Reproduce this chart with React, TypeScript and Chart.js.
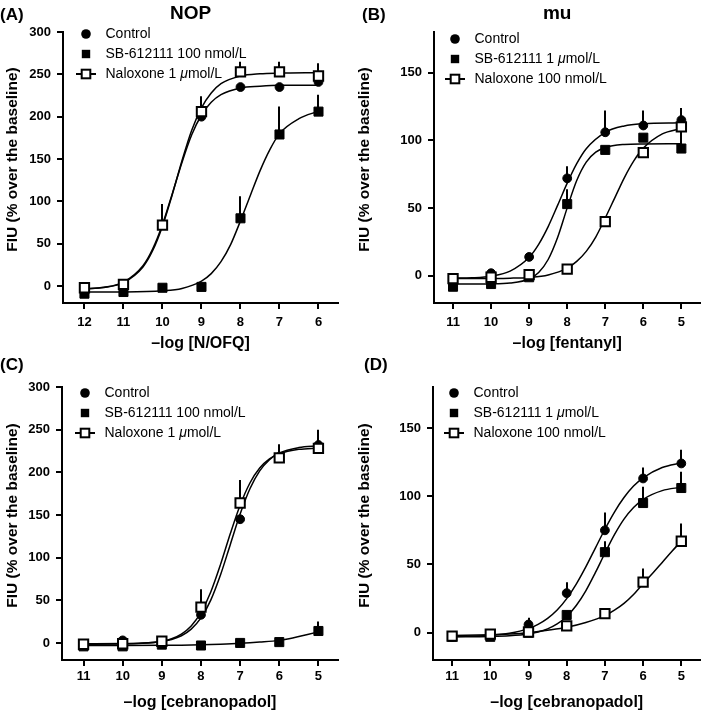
import React, { useEffect, useRef } from 'react';
import { Chart, registerables } from 'chart.js';

Chart.register(...registerables);

const FONT = "'Liberation Sans', Arial, Helvetica, sans-serif";
Chart.defaults.font.family = FONT;

const Y_TITLE = 'FIU (% over the baseline)';

// ---------------- Panel A : NOP / N/OFQ ----------------
const doseA = [12, 11, 10, 9, 8, 7, 6];
const controlA = [-3, 2, 72, 200, 235, 235, 241];
const sbA = [-9, -7, -2, -1, 80, 179, 206];
const naloxA = [-2, 2, 72, 206, 253, 253, 248];
const controlErrA = [0, 0, 0, 0, 0, 0, 0];
const sbErrA = [0, 0, 0, 0, 26, 33, 20];
const naloxErrA = [0, 0, 25, 18, 12, 12, 15];
const fitXA = [12, 11.5, 11, 10.5, 10.25, 10, 9.75, 9.5, 9.25, 9, 8.75, 8.5, 8, 7.5, 7, 6];
const fitControlA = [-3.3, -1.5, 4.6, 24, 44, 72.7, 108.8, 146, 178.6, 202, 217, 226, 234, 236, 237, 237];
const fitNaloxA = [-3.3, -1.7, 4.1, 22.6, 42, 70.7, 107.8, 148, 184, 210.5, 228, 239, 248, 250.7, 251.5, 252];
const fitXSbA = [12, 11, 10, 9.5, 9, 8.75, 8.5, 8.25, 8, 7.75, 7.5, 7.25, 7, 6.5, 6];
const fitSbA = [-7, -6.9, -5.6, -2.8, 5.9, 14.7, 28.8, 49.3, 77, 106.7, 136, 160.8, 180, 197.7, 206.5];
const xTicksA = [12, 11, 10, 9, 8, 7, 6];
const yTicksA = [0, 50, 100, 150, 200, 250, 300];
const legendA = ['Control', 'SB-612111 100 nmol/L', 'Naloxone 1 μmol/L'];

// ---------------- Panel B : mu / fentanyl ----------------
const doseB = [11, 10, 9, 8, 7, 6, 5];
const controlB = [-2, 2, 14, 72, 106, 111, 115];
const sbB = [-8, -6, -1, 53, 93, 102, 94];
const naloxB = [-2, -1, 1, 5, 40, 91, 110];
const controlErrB = [0, 0, 0, 9, 16, 11, 9];
const sbErrB = [0, 0, 0, 11, 0, 0, 14];
const naloxErrB = [0, 0, 0, 0, 0, 0, 0];
const fitXControlB = [11, 10.5, 10, 9.5, 9, 8.75, 8.5, 8.25, 8, 7.75, 7.5, 7, 6.5, 6, 5];
const fitControlB = [-1.7, -1.4, -0.2, 3.5, 13.7, 23.3, 36.4, 52.2, 68.5, 82.9, 93.9, 106, 110.7, 112.3, 113];
const fitXSbB = [11, 10, 9.5, 9, 8.75, 8.5, 8.25, 8, 7.75, 7.5, 7.25, 7, 6.5, 6, 5];
const fitSbB = [-6, -5.9, -5.3, -2.3, 2.5, 12.1, 28.5, 50.2, 70.4, 84, 91.3, 94.8, 97, 97.4, 97.5];
const fitXNaloxB = [11, 10, 9.5, 9, 8.5, 8, 7.75, 7.5, 7.25, 7, 6.75, 6.5, 6.25, 6, 5.5, 5];
const fitNaloxB = [-2, -1.9, -1.7, -1.1, 0.7, 5.7, 10.7, 18.1, 28.7, 42.7, 57.6, 72.4, 84.9, 94.3, 104.8, 108.8];
const xTicksB = [11, 10, 9, 8, 7, 6, 5];
const yTicksB = [0, 50, 100, 150];
const legendB = ['Control', 'SB-612111 1 μmol/L', 'Naloxone 100 nmol/L'];

// ---------------- Panel C : NOP / cebranopadol ----------------
const doseC = [11, 10, 9, 8, 7, 6, 5];
const controlC = [-2, 3, 2, 33, 145, 218, 232];
const sbC = [-4, -4, -2, -3, 0, 1, 14];
const naloxC = [-1.5, -1, 2, 42, 164, 217, 228];
const controlErrC = [0, 0, 0, 0, 0, 0, 18];
const sbErrC = [0, 0, 0, 0, 0, 0, 11];
const naloxErrC = [0, 0, 0, 21, 27, 16, 0];
const fitXC = [11, 10, 9.5, 9, 8.75, 8.5, 8.25, 8, 7.75, 7.5, 7.25, 7, 6.75, 6.5, 6.25, 6, 5.5, 5];
const fitControlC = [-1, -0.8, -0.2, 1.75, 4.1, 8.4, 16.2, 29.3, 50.2, 79.9, 115.5, 151, 180.7, 201.7, 214.8, 222.6, 229, 231];
const fitNaloxC = [-1.5, -1.3, -0.5, 2, 5, 10.4, 19.9, 35.7, 59.8, 92.1, 128.3, 161.5, 187.5, 205, 215.7, 221.6, 226.9, 228.4];
const fitXSbC = [11, 10, 9, 8.5, 8, 7.5, 7, 6.5, 6, 5.75, 5.5, 5.25, 5];
const fitSbC = [-3, -3, -2.8, -2.6, -2.2, -1.5, -0.5, 1, 3, 5, 7.5, 10.2, 13];
const xTicksC = [11, 10, 9, 8, 7, 6, 5];
const yTicksC = [0, 50, 100, 150, 200, 250, 300];
const legendC = ['Control', 'SB-612111 100 nmol/L', 'Naloxone 1 μmol/L'];

// ---------------- Panel D : mu / cebranopadol ----------------
const doseD = [11, 10, 9, 8, 7, 6, 5];
const controlD = [-3, -2, 6, 29, 75, 113, 124];
const sbD = [-3, -3, 0, 13, 59, 95, 106];
const naloxD = [-2.5, -1, 0.5, 5, 14, 37, 67];
const controlErrD = [0, 0, 5, 8, 13, 8, 10];
const sbErrD = [0, 0, 0, 0, 8, 12, 12];
const naloxErrD = [0, 0, 0, 0, 3, 10, 13];
const fitXControlD = [11, 10.5, 10, 9.5, 9, 8.75, 8.5, 8.25, 8, 7.75, 7.5, 7.25, 7, 6.75, 6.5, 6.25, 6, 5.5, 5];
const fitControlD = [-2.8, -2.5, -1.9, -0.4, 3, 6.1, 10.5, 16.6, 25, 35.6, 48.2, 62, 75.8, 88.4, 99, 107.4, 113.5, 121, 124.4];
const fitXSbD = [11, 10, 9.5, 9, 8.75, 8.5, 8.25, 8, 7.75, 7.5, 7.25, 7, 6.75, 6.5, 6.25, 6, 5.5, 5];
const fitSbD = [-3, -2.7, -2.2, -0.9, 0.5, 2.8, 6.4, 11.9, 19.9, 30.7, 44, 58.2, 71.8, 83.2, 91.7, 97.7, 104.1, 106.6];
const fitXNaloxD = [11, 10, 9.5, 9, 8.5, 8, 7.5, 7, 6.75, 6.5, 6.25, 6, 5.75, 5.5, 5.25, 5];
const fitNaloxD = [-2, -1.5, -1, 0, 1.8, 4, 7.5, 12.5, 16.5, 21.5, 28, 36, 43.5, 51.5, 59.5, 67];
const xTicksD = [11, 10, 9, 8, 7, 6, 5];
const yTicksD = [0, 50, 100, 150];
const legendD = ['Control', 'SB-612111 1 μmol/L', 'Naloxone 100 nmol/L'];

type Kind = 'circle' | 'square' | 'open';
type Series = { y: number[]; err: number[]; kind: Kind; fitX: number[]; fitY: number[] };
type PanelCfg = {
  letter: string; title: string; xTitle: string; dose: number[]; series: Series[];
  xMin: number; xMax: number; yMin: number; yMax: number; xTicks: number[]; yTicks: number[];
  legend: string[];
  box: { left: number; top: number; width: number; height: number };
  padTop: number; padRight: number; yAxisW: number; xAxisH: number; xTickPad: number; xTitlePad: number;
  letterX: number; yTitleX: number; legendDx: number; legendDy: number;
};

const mk = (y: number[], err: number[], kind: Kind, fitX: number[], fitY: number[]): Series => ({ y, err, kind, fitX, fitY });

const panels: PanelCfg[] = [
  {
    letter: '(A)', title: 'NOP', xTitle: '–log [N/OFQ]', dose: doseA,
    series: [mk(controlA, controlErrA, 'circle', fitXA, fitControlA), mk(sbA, sbErrA, 'square', fitXSbA, fitSbA), mk(naloxA, naloxErrA, 'open', fitXA, fitNaloxA)],
    xMin: 5.5, xMax: 12.55, yMin: -20, yMax: 300, xTicks: xTicksA, yTicks: yTicksA, legend: legendA,
    box: { left: 0, top: 0, width: 354, height: 360 }, padTop: 32, padRight: 16, yAxisW: 63, xAxisH: 57, xTickPad: 6, xTitlePad: 7,
    letterX: 0, yTitleX: 13, legendDx: 23, legendDy: 2,
  },
  {
    letter: '(B)', title: 'mu', xTitle: '–log [fentanyl]', dose: doseB,
    series: [mk(controlB, controlErrB, 'circle', fitXControlB, fitControlB), mk(sbB, sbErrB, 'square', fitXSbB, fitSbB), mk(naloxB, naloxErrB, 'open', fitXNaloxB, fitNaloxB)],
    xMin: 4.5, xMax: 11.5, yMin: -20, yMax: 180, xTicks: xTicksB, yTicks: yTicksB, legend: legendB,
    box: { left: 354, top: 0, width: 355, height: 360 }, padTop: 32, padRight: 3, yAxisW: 80, xAxisH: 57, xTickPad: 6, xTitlePad: 7,
    letterX: 8, yTitleX: 11, legendDx: 21, legendDy: 7,
  },
  {
    letter: '(C)', title: '', xTitle: '–log [cebranopadol]', dose: doseC,
    series: [mk(controlC, controlErrC, 'circle', fitXC, fitControlC), mk(sbC, sbErrC, 'square', fitXSbC, fitSbC), mk(naloxC, naloxErrC, 'open', fitXC, fitNaloxC)],
    xMin: 4.5, xMax: 11.55, yMin: -20, yMax: 300, xTicks: xTicksC, yTicks: yTicksC, legend: legendC,
    box: { left: 0, top: 350, width: 354, height: 362 }, padTop: 37, padRight: 16, yAxisW: 62, xAxisH: 52, xTickPad: 3, xTitlePad: 0,
    letterX: 0, yTitleX: 13, legendDx: 23, legendDy: 6,
  },
  {
    letter: '(D)', title: '', xTitle: '–log [cebranopadol]', dose: doseD,
    series: [mk(controlD, controlErrD, 'circle', fitXControlD, fitControlD), mk(sbD, sbErrD, 'square', fitXSbD, fitSbD), mk(naloxD, naloxErrD, 'open', fitXNaloxD, fitNaloxD)],
    xMin: 4.5, xMax: 11.5, yMin: -20, yMax: 180, xTicks: xTicksD, yTicks: yTicksD, legend: legendD,
    box: { left: 354, top: 350, width: 355, height: 362 }, padTop: 37, padRight: 2, yAxisW: 79, xAxisH: 52, xTickPad: 3, xTitlePad: 0,
    letterX: 10, yTitleX: 11, legendDx: 21, legendDy: 6,
  },
];

const pointOpts: Record<Kind, { style: string; r: number; bg: string; bw: number; order: number }> = {
  circle: { style: 'circle', r: 4.4, bg: '#000', bw: 1, order: 3 },
  square: { style: 'rect', r: 6.4, bg: '#000', bw: 1, order: 2 },
  open: { style: 'rect', r: 6.6, bg: '#fff', bw: 2, order: 1 },
};

function drawMarker(ctx: CanvasRenderingContext2D, kind: Kind, x: number, y: number) {
  ctx.save();
  ctx.fillStyle = '#000';
  ctx.strokeStyle = '#000';
  if (kind === 'circle') {
    ctx.beginPath();
    ctx.arc(x, y, 4.8, 0, Math.PI * 2);
    ctx.fill();
  } else if (kind === 'square') {
    ctx.fillRect(x - 4.2, y - 4.2, 8.4, 8.4);
  } else {
    ctx.lineWidth = 2;
    ctx.beginPath();
    ctx.moveTo(x - 10, y);
    ctx.lineTo(x + 10, y);
    ctx.stroke();
    ctx.fillStyle = '#fff';
    ctx.fillRect(x - 4.3, y - 4.3, 8.6, 8.6);
    ctx.strokeRect(x - 4.3, y - 4.3, 8.6, 8.6);
  }
  ctx.restore();
}

function drawRich(ctx: CanvasRenderingContext2D, text: string, x: number, y: number) {
  const parts = text.split('μ');
  let cx = x;
  parts.forEach((p, idx) => {
    if (idx > 0) {
      ctx.font = `italic 14px ${FONT}`;
      ctx.fillText('μ', cx, y);
      cx += ctx.measureText('μ').width;
    }
    ctx.font = `14px ${FONT}`;
    ctx.fillText(p, cx, y);
    cx += ctx.measureText(p).width;
  });
}

function makeDecor(cfg: PanelCfg) {
  return {
    id: 'decor',
    beforeDatasetsDraw(chart: any) {
      const ctx: CanvasRenderingContext2D = chart.ctx;
      const xs = chart.scales.x;
      const ys = chart.scales.y;
      ctx.save();
      ctx.strokeStyle = '#000';
      ctx.lineWidth = 2;
      cfg.series.forEach((s) => {
        s.err.forEach((e, i) => {
          if (e > 0) {
            const px = Math.round(xs.getPixelForValue(cfg.dose[i]));
            ctx.beginPath();
            ctx.moveTo(px, ys.getPixelForValue(s.y[i]));
            ctx.lineTo(px, ys.getPixelForValue(s.y[i] + e));
            ctx.stroke();
          }
        });
      });
      ctx.restore();
    },
    afterDraw(chart: any) {
      const ctx: CanvasRenderingContext2D = chart.ctx;
      const a = chart.chartArea;
      ctx.save();
      ctx.fillStyle = '#000';
      ctx.textBaseline = 'middle';
      ctx.textAlign = 'left';
      ctx.font = `bold 17px ${FONT}`;
      ctx.fillText(cfg.letter, cfg.letterX, 15);
      if (cfg.title) {
        ctx.font = `bold 19px ${FONT}`;
        ctx.textAlign = 'center';
        ctx.fillText(cfg.title, (a.left + a.right) / 2 - 10, 14);
      }
      ctx.save();
      ctx.translate(cfg.yTitleX, (a.top + a.bottom) / 2 - 8);
      ctx.rotate(-Math.PI / 2);
      ctx.font = `bold 15.5px ${FONT}`;
      ctx.textAlign = 'center';
      ctx.fillText(Y_TITLE, 0, 0);
      ctx.restore();
      const mx = a.left + cfg.legendDx;
      ctx.textAlign = 'left';
      cfg.legend.forEach((label, i) => {
        const y = a.top + cfg.legendDy + i * 20;
        drawMarker(ctx, cfg.series[i].kind, mx, y);
        ctx.fillStyle = '#000';
        drawRich(ctx, label, mx + 19.5, y);
      });
      ctx.restore();
    },
  };
}

function axisCommon() {
  return {
    grid: { display: true, drawOnChartArea: false, drawTicks: true, tickLength: 6, tickWidth: 2, tickColor: '#000', color: '#000', lineWidth: 2 },
    border: { display: true, color: '#000', width: 2 },
  };
}

function Panel({ cfg }: { cfg: PanelCfg }) {
  const ref = useRef<HTMLCanvasElement>(null);
  useEffect(() => {
    if (!ref.current) return;
    const datasets: any[] = [];
    cfg.series.forEach((s) => {
      const po = pointOpts[s.kind];
      datasets.push({
        data: cfg.dose.map((x, i) => ({ x, y: s.y[i] })),
        showLine: false,
        pointStyle: po.style,
        pointRadius: po.r,
        pointHoverRadius: po.r,
        pointBackgroundColor: po.bg,
        pointBorderColor: '#000',
        pointBorderWidth: po.bw,
        order: po.order,
        clip: false,
      });
      datasets.push({
        data: s.fitX.map((x, i) => ({ x, y: s.fitY[i] })),
        showLine: true,
        borderColor: '#000',
        borderWidth: 1.5,
        pointRadius: 0,
        pointHoverRadius: 0,
        fill: false,
        tension: 0.4,
        cubicInterpolationMode: 'monotone',
        order: 10,
      });
    });
    const tickFont = { family: FONT, size: 13, weight: 'bold' as const };
    const chart = new Chart(ref.current, {
      type: 'line',
      data: { datasets },
      options: {
        animation: false,
        responsive: false,
        devicePixelRatio: 1,
        events: [],
        layout: { padding: { left: 0, right: cfg.padRight, top: cfg.padTop, bottom: 0 } },
        plugins: { legend: { display: false }, tooltip: { enabled: false }, title: { display: false } },
        scales: {
          x: {
            type: 'linear',
            reverse: true,
            min: cfg.xMin,
            max: cfg.xMax,
            ...axisCommon(),
            afterBuildTicks: (s: any) => { s.ticks = cfg.xTicks.map((v) => ({ value: v })); },
            afterFit: (s: any) => { s.height = cfg.xAxisH; },
            ticks: { font: tickFont, color: '#000', padding: cfg.xTickPad, autoSkip: false, maxRotation: 0, callback: (v: any) => String(v) },
            title: { display: true, text: cfg.xTitle, color: '#000', font: { family: FONT, size: 16, weight: 'bold' }, padding: { top: 0, bottom: cfg.xTitlePad } },
          },
          y: {
            type: 'linear',
            min: cfg.yMin,
            max: cfg.yMax,
            ...axisCommon(),
            afterBuildTicks: (s: any) => { s.ticks = cfg.yTicks.map((v) => ({ value: v })); },
            afterFit: (s: any) => { s.width = cfg.yAxisW; },
            ticks: { font: tickFont, color: '#000', padding: 6, callback: (v: any) => String(v) },
          },
        },
      } as any,
      plugins: [makeDecor(cfg)],
    });
    return () => chart.destroy();
  }, [cfg]);
  return (
    <canvas
      ref={ref}
      width={cfg.box.width}
      height={cfg.box.height}
      style={{ position: 'absolute', left: cfg.box.left, top: cfg.box.top, width: cfg.box.width, height: cfg.box.height }}
    />
  );
}

export default function App() {
  return (
    <div style={{ position: 'absolute', left: 0, top: 0, width: 709, height: 712, background: '#fff', overflow: 'hidden' }}>
      {panels.map((p) => (
        <Panel key={p.letter} cfg={p} />
      ))}
    </div>
  );
}
